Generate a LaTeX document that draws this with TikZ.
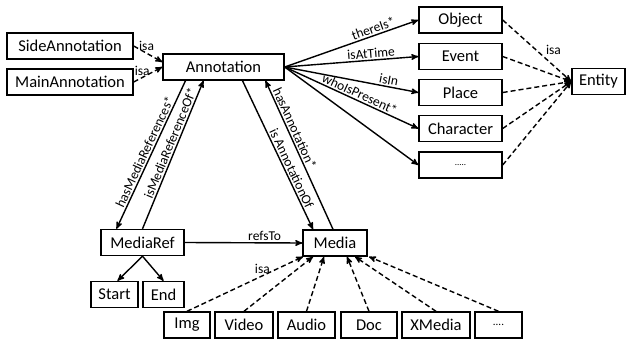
\documentclass[tikz,border=0pt]{standalone}
\usepackage{fontspec}
\setmainfont{Carlito}
\usetikzlibrary{arrows}
\tikzstyle{box} = [draw, line width=1.4pt, minimum height=26, inner sep=0pt, font=\fontsize{16.5}{19}\selectfont]
\tikzstyle{edge} = [draw, line width=1.4pt, -stealth']
\tikzstyle{isaedge} = [draw, line width=1.4pt, dash pattern=on 5pt off 3pt, -stealth']
\tikzstyle{rel} = [font=\fontsize{13.5}{15}\selectfont, inner sep=1.5pt]

\begin{document}
\begin{tikzpicture}[x=1pt, y=-1pt]
	\useasboundingbox (0,0) rectangle (627,340);
	\node[box, minimum width=126] (side) at (70,46) {SideAnnotation};
	\node[box, minimum width=126] (main) at (70,82) {MainAnnotation};
	\node[box, minimum width=121] (annot) at (223.5,67) {Annotation};
	\node[box, minimum width=83] (object) at (460.5,20) {Object};
	\node[box, minimum width=83] (event) at (460.5,56.5) {Event};
	\node[box, minimum width=83] (place) at (460.5,92.5) {Place};
	\node[box, minimum width=83] (character) at (460.5,128.5) {Character};
	\node[box, minimum width=83] (more) at (460.5,165) {\fontsize{9}{10}\selectfont .....};
	\node[box, minimum width=53] (entity) at (598.5,81.5) {Entity};
	\node[box, minimum width=83] (mref) at (142.5,242.5) {MediaRef};
	\node[box, minimum width=47] (start) at (114.5,294.5) {Start};
	\node[box, minimum width=41] (end) at (163.5,294.5) {End};
	\node[box, minimum width=64] (media) at (335,243) {Media};
	\node[box, minimum width=46] (img) at (187,325) {Img};
	\node[box, minimum width=58] (video) at (244,325) {Video};
	\node[box, minimum width=57] (audio) at (306.5,325) {Audio};
	\node[box, minimum width=56] (doc) at (369,325) {Doc};
	\node[box, minimum width=68] (xmedia) at (436,325) {XMedia};
	\node[box, minimum width=47] (moremedia) at (498.5,325) {\fontsize{11}{12}\selectfont ....};

	\path[isaedge] (side.east) -- node[rel, above, pos=0.45] {isa} ([yshift=5]annot.west);
	\path[isaedge] (main.east) -- node[rel, above, pos=0.3] {isa} (annot.west);

	\foreach \dest/\name/\where in {object/thereIs*/0.68, event/isAtTime/0.65, place/isIn/0.77, character/whoIsPresent*/0.54}
		\path[edge] (annot.east) -- node[rel, sloped, above, pos=\where] {\name} (\dest.west);
	\path[edge] (annot.east) -- (more.west);

	\path[isaedge] (object.east) -- node[rel, above right, pos=0.6] {isa} (entity.west);
	\foreach \source in {event, place, character, more}
		\path[isaedge] (\source.east) -- (entity.west);

	\path[edge] ([xshift=-38]annot.south) -- node[rel, sloped, above, pos=0.5] {hasMediaReferences*} ([xshift=-26]mref.north);
	\path[edge] (mref.north) -- node[rel, sloped, above, pos=0.56] {isMediaReferenceOf*} ([xshift=-20]annot.south);
	\path[edge] ([xshift=19]annot.south) -- node[rel, sloped, above, pos=0.61] {is AnnotationOf} ([xshift=-22]media.north);
	\path[edge] ([xshift=-2]media.north) -- node[rel, sloped, above, pos=0.66] {hasAnnotation*} ([xshift=42]annot.south);

	\path[edge] (mref.east) -- node[rel, above, pos=0.68] {refsTo} (media.west);
	\path[edge] (mref.south) -- ([xshift=3]start.north);
	\path[edge] (mref.south) -- (end.north);

	\path[isaedge] (img.north) -- node[rel, above, pos=0.65] {isa} ([xshift=-32]media.south);
	\foreach \source/\shift in {video/-22, audio/-11, doc/12, xmedia/20, moremedia/34}
		\path[isaedge] (\source.north) -- ([xshift=\shift]media.south);
\end{tikzpicture}
\end{document}
